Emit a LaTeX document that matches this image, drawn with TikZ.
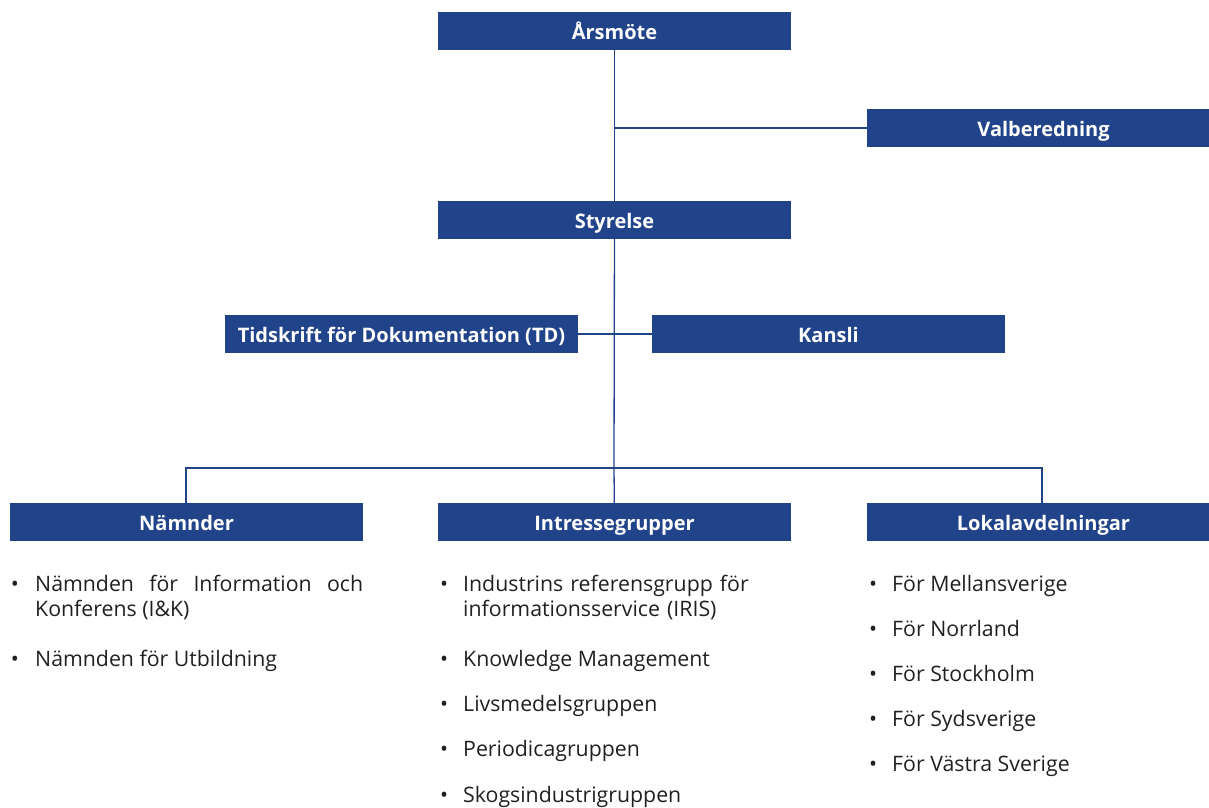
\documentclass[tikz,border=0pt]{standalone}
\usepackage{fontspec}
\setmainfont{Open Sans}
\usetikzlibrary{positioning}
\definecolor{orgblue}{HTML}{21438A}
\definecolor{listtext}{HTML}{231F20}
\newcommand{\boxfont}{\fontsize{20}{24}\selectfont\bfseries}
\newcommand{\listfont}{\fontsize{21.3}{25}\selectfont\hyphenpenalty=10000}

\begin{document}
\begin{tikzpicture}[x=1pt, y=-1pt]
		\tikzstyle{Box} = [rectangle, minimum width=353pt, minimum height=38pt, inner sep=0pt, text height=17pt, text depth=0pt, text centered, fill=orgblue, text=white, font=\boxfont]
		\tikzstyle{line} = [orgblue, line width=1.3pt]
		\tikzstyle{item} = [anchor=base west, inner sep=0pt, text=listtext, font=\listfont]
		\tikzstyle{dot} = [anchor=base, inner sep=0pt, text=listtext, font=\listfont]
		
		\useasboundingbox (0,0) rectangle (1209,807);
		\clip (0,0) rectangle (1209,807);
		
		% boxes
		\node (arsmote) [Box] at (614.5,31) {Årsmöte};
		\node (valb) [Box] at (1043.5,128) {Valberedning};
		\node (styrelse) [Box] at (614.5,220) {Styrelse};
		\node (td) [Box] at (401.5,334) {Tidskrift för Dokumentation (TD)};
		\node (kansli) [Box] at (828.5,334) {Kansli};
		\node (namnder) [Box] at (186.5,522) {Nämnder};
		\node (intresse) [Box] at (614.5,522) {Intressegrupper};
		\node (lokal) [Box] at (1043.5,522) {Lokalavdelningar};
		
		% connectors
		\coordinate (split) at (614,468);
		\draw [line] (arsmote) -- (styrelse);
		\draw [line] (valb.west) -- (valb.west -| arsmote);
		\draw [line] (styrelse) -- (split);
		\draw [line] (td.east) -- (kansli.west);
		\draw [line] (namnder.north -| 186,0) |- (split) -| (lokal.north -| 1042,0);
		\draw [line] (split) -- (intresse);
		
		% Nämnder
		\node (n1) [item, text width=328pt, align=justify] at (35,591) {Nämnden för Information och Konferens (I\&K)};
		\node [dot] at (15,591) {•};
		\node (n2) [item] at (35,666) {Nämnden för Utbildning};
		\node [dot] at (15,666) {•};
		
		% Intressegrupper
		\node (i1) [item, text width=320pt, align=left] at (463,591) {Industrins referensgrupp för\\informationsservice (IRIS)};
		\node [dot] at (444,591) {•};
		\node (i2) [item] at (463,666) {Knowledge Management};
		\node [dot] at (444,666) {•};
		\node (i3) [item] at (463,711) {Livsmedelsgruppen};
		\node [dot] at (444,711) {•};
		\node (i4) [item] at (463,756) {Periodicagruppen};
		\node [dot] at (444,756) {•};
		\node (i5) [item] at (463,802) {Skogsindustrigruppen};
		\node [dot] at (444,802) {•};
		
		% Lokalavdelningar
		\node (l1) [item] at (892,591) {För Mellansverige};
		\node [dot] at (873,591) {•};
		\node (l2) [item] at (892,636) {För Norrland};
		\node [dot] at (873,636) {•};
		\node (l3) [item] at (892,681) {För Stockholm};
		\node [dot] at (873,681) {•};
		\node (l4) [item] at (892,726) {För Sydsverige};
		\node [dot] at (873,726) {•};
		\node (l5) [item] at (892,771) {För Västra Sverige};
		\node [dot] at (873,771) {•};
\end{tikzpicture}
\end{document}
